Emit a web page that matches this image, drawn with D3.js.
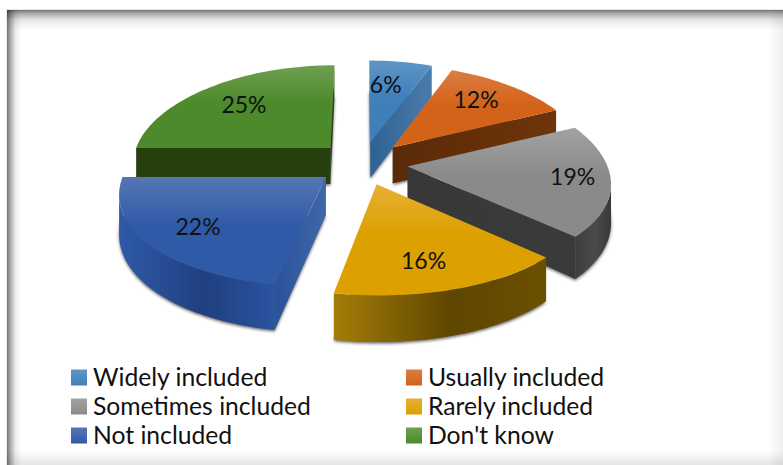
<!DOCTYPE html>
<html><head><meta charset="utf-8">
<script src="https://cdn.jsdelivr.net/npm/d3@7"></script>
<style>html,body{margin:0;padding:0;background:#fff}svg{display:block}text{font-family:Lato,sans-serif;fill:#111}</style>
</head><body><svg id="c" width="783" height="465"></svg>
<script>
const categories=["Widely included","Usually included","Sometimes included","Rarely included","Not included","Don't know"];
const values=[6,12,19,16,22,25];
const topLight=["#5f96c8","#da7d42","#a2a2a2","#e8b035","#5576b4","#6f9f50"];
const topDark=["#3f7fba","#d4631a","#8a8a8a","#dca000","#2f5aa8","#4c8a2c"];
const radialA=["#2f6294","#5a2a08","#383838","#000","#2a529c","#27400e"];
const radialB=["#4a7bab","#6e3509","#3a3a3a","#000","#3f68a8","#27400e"];
const arcA=["#000","#000","#3e3e3e","#a47d08","#2f5aa8","#000"];
const arcB=["#000","#000","#4a4a4a","#5f4600","#1f3f80","#000"];
const arcC=["#000","#000","#383838","#6b5000","#2a55a0","#000"];
const W=783,H=465,cx=362,cy=163,R=199,Ry=94.5,kx=.15,ky=.107,kd=.17,D=37,explode=.23;
const labelR=[.72,.62,.78,.62,.62,.62], labelDA=[-2,-8,8,-12,10,8];
const labelDX=[-3,21,9,-24,-11,-21], labelDY=[2,-4,-12,20,19,0];

const svg=d3.select("#c"), defs=svg.append("defs");
function lin(id,x2,y2,stops){const g=defs.append("linearGradient").attr("id",id).attr("x1",0).attr("y1",0).attr("x2",x2).attr("y2",y2);
  stops.forEach(s=>g.append("stop").attr("offset",s[0]).attr("stop-color",s[1]).attr("stop-opacity",s[2]===undefined?1:s[2]));}
defs.append("filter").attr("id","blur").attr("x","-20%").attr("y","-20%").attr("width","140%").attr("height","140%")
  .append("feGaussianBlur").attr("stdDeviation",1.6);

// frame shadow
lin("fT",0,1,[[0,"#000",.55],[.15,"#000",.35],[.5,"#000",.1],[1,"#000",0]]);
lin("fL",1,0,[[0,"#000",.55],[.25,"#000",.32],[.6,"#000",.08],[1,"#000",0]]);
lin("fB",0,1,[[0,"#000",0],[1,"#000",.1]]);
lin("fR",1,0,[[0,"#000",0],[1,"#000",.06]]);
svg.append("rect").attr("width",W).attr("height",H).attr("fill","#fff");
svg.append("rect").attr("x",6).attr("y",9).attr("width",W-6).attr("height",H-9).attr("fill","#e8e8e8");
svg.append("rect").attr("x",7).attr("y",10).attr("width",W-7).attr("height",H-10).attr("fill","#fff");
svg.append("rect").attr("x",7).attr("y",10).attr("width",W-7).attr("height",20).attr("fill","url(#fT)");
svg.append("rect").attr("x",7).attr("y",10).attr("width",14).attr("height",H-10).attr("fill","url(#fL)");
svg.append("rect").attr("x",7).attr("y",450).attr("width",W-7).attr("height",15).attr("fill","url(#fB)");
svg.append("rect").attr("x",768).attr("y",10).attr("width",15).attr("height",H-10).attr("fill","url(#fR)");

const proj=(X,Y)=>[cx+R*X/(1+kx*Y), cy-Ry*Y/(1+ky*Y), D/(1+kd*Y)];
const line=d3.line();
const arcs=d3.pie().sort(null)(values).map((d,i)=>{
  const mid=(d.startAngle+d.endAngle)/2, ox=explode*Math.sin(mid), oy=explode*Math.cos(mid);
  const pt=(r,a)=>proj(ox+r*Math.sin(a),oy+r*Math.cos(a));
  const apex=pt(0,0), n=Math.ceil((d.endAngle-d.startAngle)/.03);
  const rim=d3.range(n+1).map(j=>pt(1,d.startAngle+(d.endAngle-d.startAngle)*j/n));
  return {i,mid,apex,rim,pt,depthKey:Math.cos(mid)};
}).sort((a,b)=>b.depthKey-a.depthKey);

const xy=p=>[p[0],p[1]], low=p=>[p[0],p[1]+p[2]];
arcs.forEach(s=>{
  const i=s.i,g=svg.append("g");
  lin("t"+i,0,1,[[0,topLight[i]],[.45,topDark[i]],[1,topDark[i]]]);
  lin("r"+i,1,0,[[0,radialA[i]],[1,radialB[i]]]);
  lin("a"+i,1,0,[[0,arcA[i]],[.55,arcB[i]],[1,arcC[i]]]);
  const outline=[s.apex,...s.rim];
  g.append("path").attr("d",line(outline.map(low))+"Z").attr("fill","#333").attr("opacity",.75).attr("filter","url(#blur)").attr("transform","translate(0,1.5)");
  const quad=(a,b,fill)=>g.append("path").attr("d",line([xy(a),xy(b),low(b),low(a)])+"Z").attr("fill",fill);
  const rim=s.rim,last=rim[rim.length-1];
  if(rim[0][0]<s.apex[0]-1) quad(s.apex,rim[0],"url(#r"+i+")");
  if(s.apex[0]<last[0]-1) quad(last,s.apex,"url(#r"+i+")");
  const run=rim.filter((p,j)=>(j<rim.length-1&&rim[j+1][0]<p[0])||(j>0&&p[0]<rim[j-1][0]));
  if(run.length>1) g.append("path").attr("d",line([...run.map(xy),...run.slice().reverse().map(low)])+"Z").attr("fill","url(#a"+i+")");
  g.append("path").attr("d",line(outline.map(xy))+"Z").attr("fill","url(#t"+i+")");
});
arcs.forEach(s=>{
  const p=s.pt(labelR[s.i],s.mid+labelDA[s.i]*Math.PI/180);
  svg.append("text").attr("x",p[0]+labelDX[s.i]).attr("y",p[1]+labelDY[s.i]).attr("dy",".35em").attr("text-anchor","middle").attr("font-size",23).text(values[s.i]+"%");
});
// legend
const lx=d3.scalePoint().domain([0,1]).range([71,406]), ly=d3.scalePoint().domain([0,1,2]).range([377.5,435.5]);
categories.forEach((c,i)=>{
  const col=i%2,row=Math.floor(i/2);
  lin("l"+i,0,1,[[0,topLight[i]],[1,topDark[i]]]);
  svg.append("rect").attr("x",lx(col)).attr("y",ly(row)-8).attr("width",16).attr("height",16).attr("fill","url(#l"+i+")");
  svg.append("text").attr("x",lx(col)+22).attr("y",ly(row)).attr("dy",".35em").attr("font-size",24.7).text(c);
});
</script></body></html>
